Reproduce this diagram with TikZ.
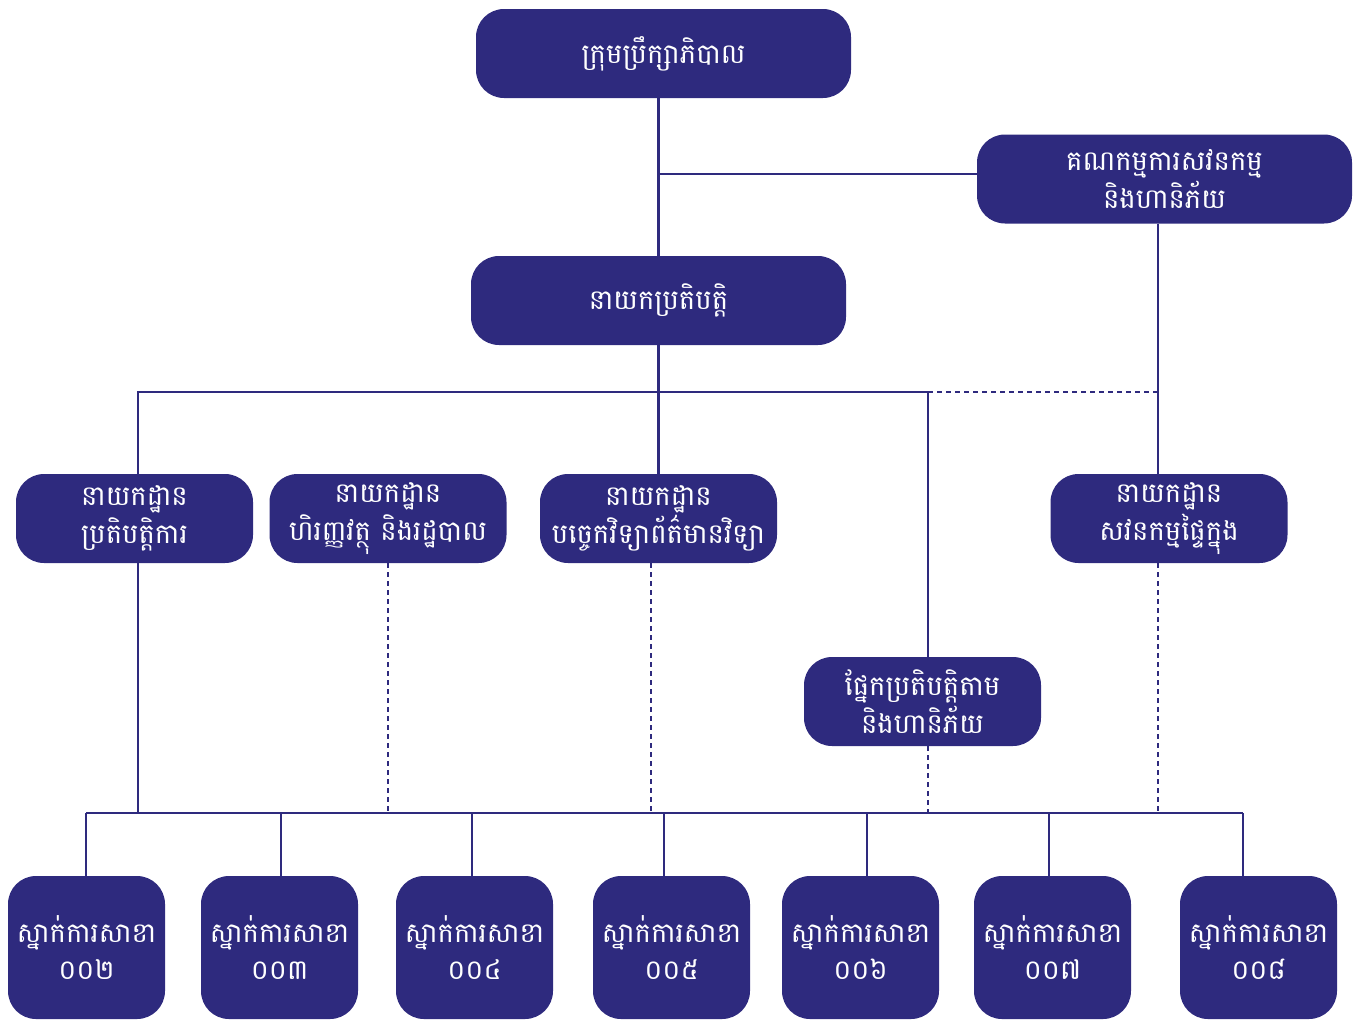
\documentclass[tikz,border=0pt]{standalone}
\usepackage{fontspec}
\newfontfamily\khmer[Script=Khmer]{Battambang}
\definecolor{navy}{HTML}{2E2A7E}
\begin{document}
\begin{tikzpicture}[x=1pt,y=-1pt,
  box/.style={fill=navy, rounded corners=28pt, text=white, font=\khmer\fontsize{27.5}{38}\selectfont, align=center, inner sep=0pt},
  wide/.style={box, minimum width=375pt, minimum height=89pt},
  dept/.style={box, minimum width=237pt, minimum height=89pt},
  branch/.style={box, minimum width=157pt, minimum height=143pt, font=\khmer\fontsize{27.5}{37}\selectfont},
  link/.style={draw=navy, line width=2.8pt},
  dlink/.style={link, dash pattern=on 5pt off 4pt}]
\useasboundingbox (0,0) rectangle (1361,1021);
% top boxes
\node[wide] (board) at (663.5,53.5) {ក្រុមប្រឹក្សាភិបាល};
\node[wide] (committee) at (1164.5,179) {គណកម្មការសវនកម្ម\\និងហានិភ័យ};
\node[wide] (ceo) at (658.5,300.5) {នាយកប្រតិបត្តិ};
% departments
\node[dept] (ops) at (134.5,518.5) {នាយកដ្ឋាន\\ប្រតិបត្តិការ};
\node[dept] (fin) at (388,518.5) {នាយកដ្ឋាន\\ហិរញ្ញវត្ថុ និងរដ្ឋបាល};
\node[dept] (it) at (658.5,518.5) {នាយកដ្ឋាន\\បច្ចេកវិទ្យាព័ត៌មានវិទ្យា};
\node[dept] (audit) at (1169,518.5) {នាយកដ្ឋាន\\សវនកម្មផ្ទៃក្នុង};
\node[dept] (comp) at (922.5,701.5) {ផ្នែកប្រតិបត្តិតាម\\និងហានិភ័យ};
% branches
\node[branch] (b2) at (86.5,947.5) {ស្នាក់ការសាខា\\០០២};
\node[branch] (b3) at (279.5,947.5) {ស្នាក់ការសាខា\\០០៣};
\node[branch] (b4) at (474.5,947.5) {ស្នាក់ការសាខា\\០០៤};
\node[branch] (b5) at (671.5,947.5) {ស្នាក់ការសាខា\\០០៥};
\node[branch] (b6) at (860.5,947.5) {ស្នាក់ការសាខា\\០០៦};
\node[branch] (b7) at (1052.5,947.5) {ស្នាក់ការសាខា\\០០៧};
\node[branch] (b8) at (1258.5,947.5) {ស្នាក់ការសាខា\\០០៨};
% junctions
\coordinate (jC) at (659,174);
\coordinate (busL) at (138,392);
\coordinate (busC) at (928,392);
\coordinate (busR) at (1158,392);
\coordinate (dIT) at (651,813);
\coordinate (t2) at (86,813);
\coordinate (t3) at (281,813);
\coordinate (t4) at (472,813);
\coordinate (t5) at (664,813);
\coordinate (t6) at (867,813);
\coordinate (t7) at (1049,813);
\coordinate (t8) at (1243,813);
% connectors
\draw[link] (ceo.north) -- (ceo.north |- board.south);
\draw[link] (jC) -- (jC -| committee.west);
\draw[link] (busR |- committee.south) -- (busR |- audit.north);
\draw[link] (ceo.south) -- (ceo.south |- it.north);
\draw[link] (busL |- ops.north) -- (busL) -- (busC) -- (busC |- comp.north);
\draw[dlink] (busC) -- (busR);
\draw[link] (busL |- ops.south) -- (busL |- t2);
\draw[dlink] (fin.south) -- (fin.south |- t2);
\draw[dlink] (dIT |- it.south) -- (dIT);
\draw[dlink] (busC |- comp.south) -- (busC |- t2);
\draw[dlink] (busR |- audit.south) -- (busR |- t2);
\draw[link] (t2) -- (t8);
\foreach \t/\b in {t2/b2,t3/b3,t4/b4,t5/b5,t6/b6,t7/b7,t8/b8}
  \draw[link] (\t) -- (\t |- \b.north);
\end{tikzpicture}
\end{document}
